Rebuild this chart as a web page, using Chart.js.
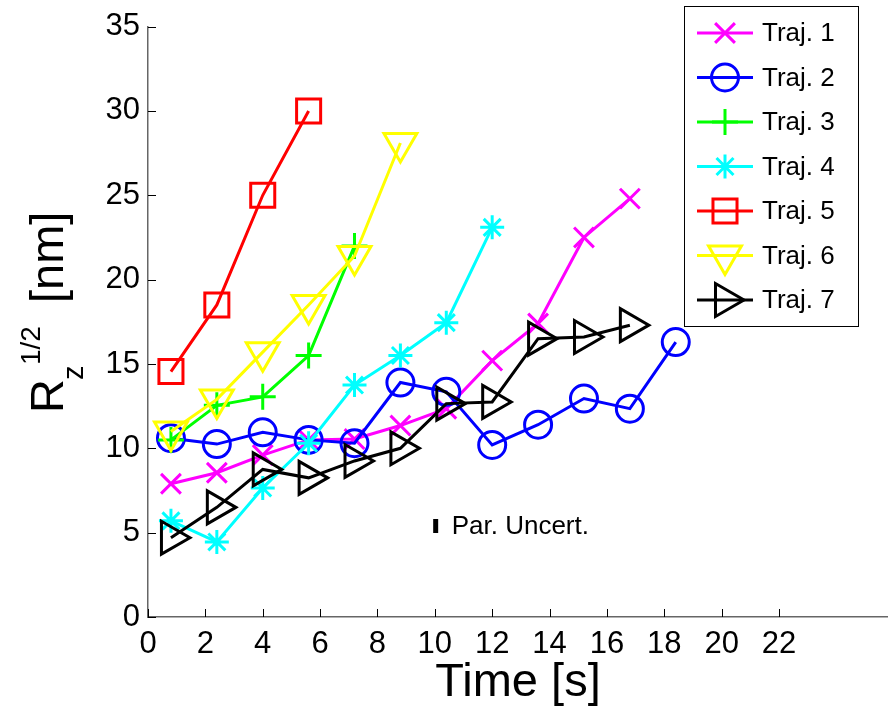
<!DOCTYPE html>
<html>
<head>
<meta charset="utf-8">
<script src="https://cdn.jsdelivr.net/npm/chart.js@4/dist/chart.umd.min.js"></script>
<style>
  html, body { margin: 0; padding: 0; background: #fff; }
  #wrap { width: 888px; height: 706px; }
</style>
</head>
<body>
<div id="wrap"><canvas id="myChart" width="888" height="706"></canvas></div>
<script>
const FONT = "'Liberation Sans', Arial, Helvetica, sans-serif";

// data
const time = [0.8, 2.4, 4.0, 5.6, 7.2, 8.8, 10.4, 12.0, 13.6, 15.2, 16.8, 18.4];
const traj1 = [7.9, 8.55, 9.6, 10.5, 10.55, 11.35, 12.35, 15.2, 17.4, 22.5, 24.8];
const traj2 = [10.6, 10.25, 10.95, 10.5, 10.3, 13.9, 13.35, 10.2, 11.4, 12.95, 12.35, 16.3];
const traj3 = [10.5, 12.55, 13.05, 15.5, 22.0];
const traj4 = [5.7, 4.45, 7.65, 10.3, 13.75, 15.5, 17.45, 23.1];
const traj5 = [14.55, 18.5, 25.0, 30.0];
const traj6 = [11.0, 12.9, 15.7, 18.5, 21.4, 28.1];
const traj7 = [4.7, 6.5, 8.75, 8.25, 9.25, 10.0, 12.65, 12.75, 16.5, 16.6, 17.3];

const labels = ["Traj. 1", "Traj. 2", "Traj. 3", "Traj. 4", "Traj. 5", "Traj. 6", "Traj. 7"];
const colors = ["#ff00ff", "#0000ff", "#00ff00", "#00ffff", "#ff0000", "#ffff00", "#000000"];
const xTicks = [0, 2, 4, 6, 8, 10, 12, 14, 16, 18, 20, 22];
const yTicks = [0, 5, 10, 15, 20, 25, 30, 35];

// parameter uncertainty marker
const uncertX = [10.03];
const uncertY = [5.4];
const uncertLabel = "Par. Uncert.";

// marker look for each trajectory
const markers = [
  { style: "crossRot", r: 14, rot: 0 },
  { style: "circle", r: 13.5, rot: 0 },
  { style: "cross", r: 13, rot: 0 },
  { style: "star", r: 12, rot: 0 },
  { style: "rect", r: 17, rot: 0 },
  { style: "triangle", r: 19, rot: 180 },
  { style: "triangle", r: 19, rot: 90 },
];

const series = [traj1, traj2, traj3, traj4, traj5, traj6, traj7];

function toPoints(ys) {
  return ys.map((y, i) => ({ x: time[i], y: y }));
}

const datasets = series.map((ys, i) => ({
  label: labels[i],
  data: toPoints(ys),
  borderColor: colors[i],
  backgroundColor: "rgba(0,0,0,0)",
  borderWidth: 3,
  pointStyle: markers[i].style,
  pointRadius: markers[i].r,
  pointHoverRadius: markers[i].r,
  pointRotation: markers[i].rot,
  pointBorderWidth: 3,
  pointBorderColor: colors[i],
  pointBackgroundColor: "rgba(0,0,0,0)",
  tension: 0,
  order: 7 - i,
}));

datasets.push({
  label: "uncert",
  data: uncertX.map((x, i) => ({ x: x, y: uncertY[i] })),
  showLine: false,
  pointStyle: "line",
  pointRotation: 90,
  pointRadius: 7,
  pointBorderWidth: 5,
  pointBorderColor: "#000",
  order: 10,
});

// inward ticks, axis titles, legend box and text note
const extras = {
  id: "extras",
  afterDraw(chart) {
    const ctx = chart.ctx;
    const xs = chart.scales.x;
    const ys = chart.scales.y;
    const area = chart.chartArea;
    ctx.save();

    // ticks pointing inside
    ctx.strokeStyle = "#000";
    ctx.lineWidth = 1;
    ctx.beginPath();
    xTicks.forEach((t) => {
      const px = Math.round(xs.getPixelForValue(t)) + 0.5;
      ctx.moveTo(px, area.bottom);
      ctx.lineTo(px, area.bottom - 8);
    });
    yTicks.forEach((t) => {
      const py = Math.round(ys.getPixelForValue(t)) + 0.5;
      ctx.moveTo(area.left, py);
      ctx.lineTo(area.left + 8, py);
    });
    ctx.stroke();

    // x title
    ctx.fillStyle = "#000";
    ctx.textAlign = "center";
    ctx.textBaseline = "alphabetic";
    ctx.font = "47px " + FONT;
    ctx.fillText("Time [s]", (area.left + area.right) / 2, 696);

    // y title R_z^{1/2} [nm], rotated
    ctx.save();
    ctx.translate(0, 413);
    ctx.rotate(-Math.PI / 2);
    ctx.textAlign = "left";
    ctx.font = "47px " + FONT;
    ctx.fillText("R", 0, 63);
    ctx.font = "29px " + FONT;
    ctx.fillText("z", 33, 83);
    ctx.font = "28px " + FONT;
    ctx.fillText("1/2", 48, 40);
    ctx.font = "47px " + FONT;
    ctx.fillText("[nm]", 110, 63);
    ctx.restore();

    // note next to the uncertainty bar
    ctx.font = "26px " + FONT;
    ctx.textAlign = "left";
    ctx.textBaseline = "middle";
    ctx.fillText(uncertLabel, xs.getPixelForValue(uncertX[0]) + 16, ys.getPixelForValue(uncertY[0]) + 1);

    // legend
    const box = { x: 684.5, y: 6.5, w: 174, h: 320 };
    ctx.fillStyle = "#fff";
    ctx.fillRect(box.x, box.y, box.w, box.h);
    ctx.strokeStyle = "#000";
    ctx.lineWidth = 1;
    ctx.strokeRect(box.x, box.y, box.w, box.h);
    labels.forEach((lab, i) => {
      const cy = 33 + i * 44.5;
      ctx.strokeStyle = colors[i];
      ctx.lineWidth = 3;
      ctx.beginPath();
      ctx.moveTo(697, cy);
      ctx.lineTo(753, cy);
      ctx.stroke();
      ctx.fillStyle = "rgba(0,0,0,0)";
      Chart.helpers.drawPoint(ctx, {
        pointStyle: markers[i].style,
        radius: markers[i].r,
        rotation: markers[i].rot,
        borderWidth: 3,
      }, 725, cy);
      ctx.fillStyle = "#000";
      ctx.font = "26px " + FONT;
      ctx.textAlign = "left";
      ctx.textBaseline = "middle";
      ctx.fillText(lab, 762, cy + 1);
    });

    ctx.restore();
  },
};

const myChart = document.querySelector("#myChart");
let chart = new Chart(myChart, {
  type: "line",
  data: { datasets: datasets },
  plugins: [extras],
  options: {
    responsive: false,
    animation: false,
    layout: { autoPadding: false, padding: { top: 22, right: 0, left: 0, bottom: 0 } },
    plugins: {
      legend: { display: false },
      tooltip: { enabled: false },
    },
    scales: {
      x: {
        type: "linear",
        min: 0,
        max: 25.8,
        afterBuildTicks: (scale) => {
          scale.ticks = xTicks.map((v) => ({ value: v }));
        },
        afterFit: (scale) => {
          scale.height = 89;
        },
        grid: { display: false, drawTicks: false },
        border: { display: true, color: "#666", width: 1.5 },
        ticks: {
          color: "#000",
          padding: 9,
          maxRotation: 0,
          autoSkip: false,
          font: { family: FONT, size: 31 },
        },
      },
      y: {
        type: "linear",
        min: 0,
        max: 35,
        afterBuildTicks: (scale) => {
          scale.ticks = yTicks.map((v) => ({ value: v }));
        },
        afterFit: (scale) => {
          scale.width = 148;
        },
        grid: { display: false, drawTicks: false },
        border: { display: true, color: "#666", width: 1.5 },
        ticks: {
          color: "#000",
          padding: 8,
          font: { family: FONT, size: 31 },
        },
      },
    },
  },
});
</script>
</body>
</html>
